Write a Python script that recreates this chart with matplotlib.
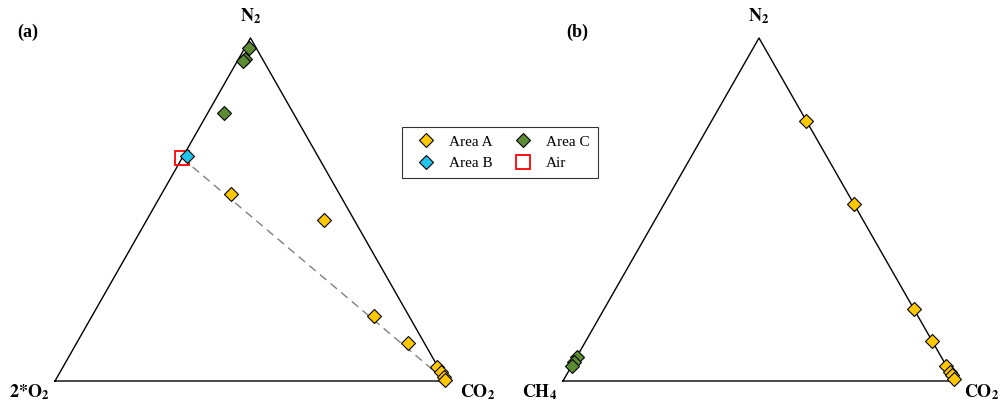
import numpy as np
import matplotlib.pyplot as plt

plt.rcParams['font.family'] = ['Liberation Serif', 'DejaVu Serif']
plt.rcParams['mathtext.fontset'] = 'stix'

# panel (a): N2 / 2*O2 / CO2 fractions (2*O2 = 1 - N2 - CO2)
a_yellow_n2 = [0.544, 0.469, 0.190, 0.110, 0.042, 0.027, 0.011, 0.003]
a_yellow_co2 = [0.178, 0.453, 0.721, 0.849, 0.956, 0.973, 0.989, 0.997]
a_blue_n2 = [0.656]
a_blue_co2 = [0.010]
a_green_n2 = [0.971, 0.938, 0.933, 0.780]
a_green_co2 = [0.010, 0.018, 0.014, 0.043]
air_n2 = [0.65]
air_co2 = [0.0]

# panel (b): N2 / CH4 / CO2 fractions (CH4 = 1 - N2 - CO2)
b_yellow_n2 = [0.759, 0.515, 0.210, 0.117, 0.044, 0.027, 0.017, 0.005]
b_yellow_co2 = [0.241, 0.485, 0.790, 0.883, 0.956, 0.973, 0.983, 0.995]
b_green_n2 = [0.071, 0.055, 0.044]
b_green_co2 = [0.0, 0.0, 0.0]

H = np.sqrt(3) / 2
c_yellow = '#FFC800'
c_green = '#5C8C32'
c_blue = '#22C4EE'


def tern(n2, co2):
    n2 = np.asarray(n2)
    co2 = np.asarray(co2)
    return co2 + 0.5 * n2, n2 * H


def triangle(ax):
    ax.plot([0, 1, 0.5, 0], [0, 0, H, 0], color='black', lw=1, clip_on=False)
    ax.set_xlim(0, 1)
    ax.set_ylim(0, H)
    ax.axis('off')


def pts(ax, n2, co2, color, label):
    x, y = tern(n2, co2)
    return ax.plot(x, y, 'D', ms=7.2, mfc=color, mec='black', mew=0.8,
                   ls='none', clip_on=False, label=label)[0]


fig = plt.figure(figsize=(10, 4.03), dpi=100)
W, Hp = 1000, 403
ax1 = fig.add_axes([55 / W, 22 / Hp, 391 / W, 343 / Hp])
ax2 = fig.add_axes([563 / W, 22 / Hp, 392 / W, 343 / Hp])

# (a)
triangle(ax1)
x0, y0 = tern(air_n2, air_co2)
ax1.plot([x0[0], 1], [y0[0], 0], ls=(0, (6, 4)), color='#808080', lw=1)
h_air = ax1.plot(x0, y0, 's', ms=10.5, mfc='none', mec='red', mew=1.3,
                 clip_on=False, label='Air')[0]
h_a = pts(ax1, a_yellow_n2, a_yellow_co2, c_yellow, 'Area A')
h_c = pts(ax1, a_green_n2, a_green_co2, c_green, 'Area C')
h_b = pts(ax1, a_blue_n2, a_blue_co2, c_blue, 'Area B')

lab = dict(fontsize=13, fontweight='bold')
ax1.text(0.5, H + 0.03, r'$\mathbf{N}_\mathbf{2}$', ha='center', va='bottom', **lab)
ax1.text(-0.015, -0.003, r'$\mathbf{2{*}O}_\mathbf{2}$', ha='right', va='top', **lab)
ax1.text(1.035, -0.003, r'$\mathbf{CO}_\mathbf{2}$', ha='left', va='top', **lab)
fig.text(17 / W, 1 - 37 / Hp, '(a)', fontsize=13, fontweight='bold')

# (b)
triangle(ax2)
pts(ax2, b_yellow_n2, b_yellow_co2, c_yellow, 'Area A')
pts(ax2, b_green_n2, b_green_co2, c_green, 'Area C')
ax2.text(0.5, H + 0.03, r'$\mathbf{N}_\mathbf{2}$', ha='center', va='bottom', **lab)
ax2.text(-0.015, -0.003, r'$\mathbf{CH}_\mathbf{4}$', ha='right', va='top', **lab)
ax2.text(1.024, -0.003, r'$\mathbf{CO}_\mathbf{2}$', ha='left', va='top', **lab)
fig.text(566 / W, 1 - 37 / Hp, '(b)', fontsize=13, fontweight='bold')

leg = fig.legend([h_a, h_b, h_c, h_air], ['Area A', 'Area B', 'Area C', 'Air'],
                 ncol=2, loc='center', bbox_to_anchor=(0.5, 1 - 152.5 / Hp),
                 fontsize=11, fancybox=False, edgecolor='black',
                 handletextpad=0.5, columnspacing=1.0, borderpad=0.55)
leg.get_frame().set_linewidth(0.8)

fig.savefig('out.png', dpi=100)
